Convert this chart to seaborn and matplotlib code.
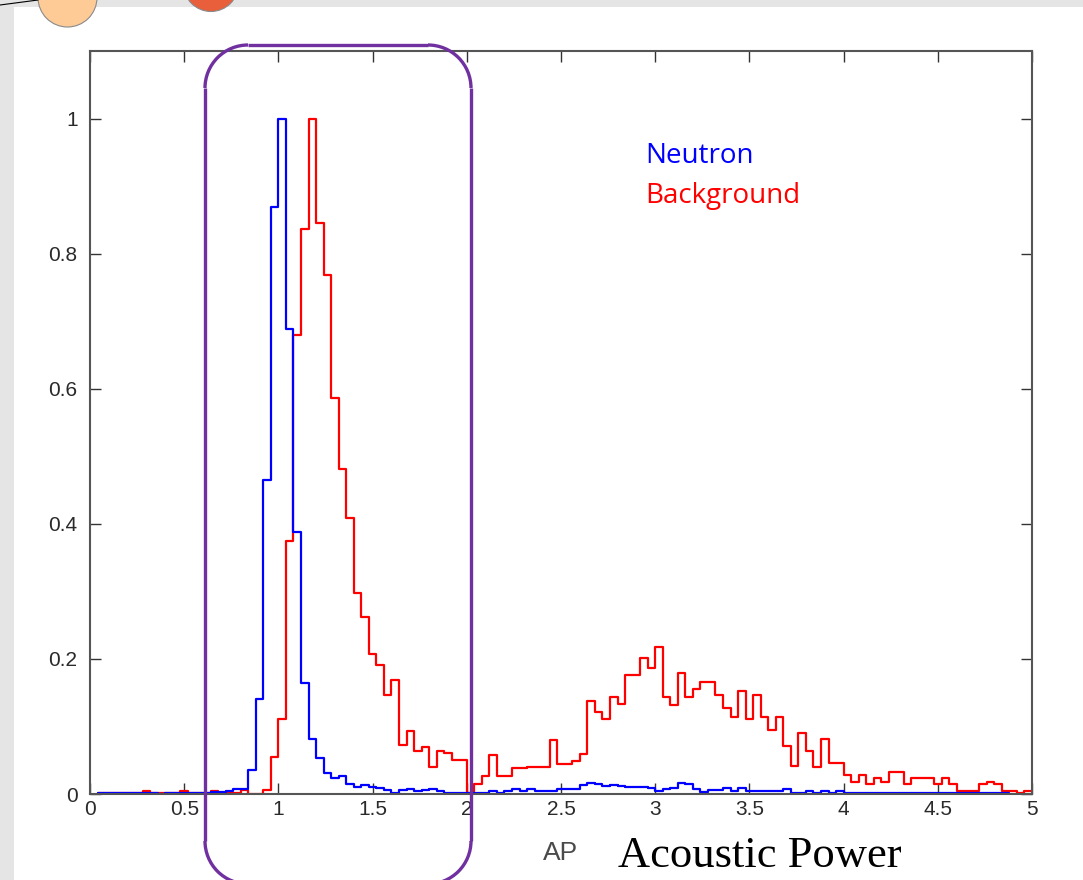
import numpy as np
import pandas as pd
import seaborn as sns
import matplotlib.pyplot as plt
from matplotlib.patches import Rectangle, Circle, Arc

# histogram bins: width 0.04, first edge at 0.04
bin_width = 0.04
first_edge = 0.04

# normalised counts per bin (peak = 1)
neutron = [
    0.002, 0.002, 0.002, 0.002, 0.002, 0.002, 0.002, 0.002, 0.0, 0.002,   # 1-10
    0.002, 0.002, 0.002, 0.002, 0.002, 0.003, 0.003, 0.005, 0.008, 0.008,  # 11-20
    0.035, 0.140, 0.465, 0.869, 1.0, 0.688, 0.388, 0.165, 0.081, 0.054,    # 21-30
    0.031, 0.024, 0.027, 0.015, 0.010, 0.013, 0.011, 0.009, 0.006, 0.002,  # 31-40
    0.006, 0.008, 0.004, 0.006, 0.008, 0.004, 0.002, 0.002, 0.002, 0.002,  # 41-50
    0.002, 0.002, 0.005, 0.001, 0.005, 0.008, 0.005, 0.008, 0.005, 0.005,  # 51-60
    0.005, 0.007, 0.007, 0.007, 0.014, 0.016, 0.015, 0.012, 0.014, 0.012,  # 61-70
    0.011, 0.011, 0.010, 0.009, 0.005, 0.008, 0.009, 0.017, 0.015, 0.007,  # 71-80
    0.003, 0.006, 0.006, 0.009, 0.004, 0.009, 0.005, 0.005, 0.005, 0.005,  # 81-90
    0.005, 0.007, 0.002, 0.002, 0.005, 0.002, 0.005, 0.002, 0.005, 0.002,  # 91-100
    0.002, 0.002, 0.002, 0.002, 0.002, 0.002, 0.002, 0.002, 0.002, 0.002,  # 101-110
    0.002, 0.002, 0.002, 0.002, 0.002, 0.002, 0.002, 0.002, 0.002, 0.002,  # 111-120
    0.002,                                                                  # 121
]

background = [
    0.001, 0.001, 0.001, 0.001, 0.001, 0.001, 0.005, 0.001, 0.001, 0.001,  # 1-10
    0.001, 0.005, 0.001, 0.001, 0.001, 0.004, 0.001, 0.001, 0.001, 0.006,  # 11-20
    0.0, 0.0, 0.006, 0.055, 0.111, 0.374, 0.680, 0.837, 1.0, 0.845,        # 21-30
    0.769, 0.586, 0.481, 0.408, 0.297, 0.262, 0.207, 0.191, 0.146, 0.169,  # 31-40
    0.073, 0.094, 0.063, 0.070, 0.040, 0.063, 0.060, 0.050, 0.050, 0.002,  # 41-50
    0.015, 0.027, 0.057, 0.027, 0.027, 0.038, 0.038, 0.040, 0.040, 0.040,  # 51-60
    0.080, 0.045, 0.045, 0.049, 0.059, 0.137, 0.122, 0.111, 0.143, 0.133,  # 61-70
    0.176, 0.176, 0.201, 0.187, 0.217, 0.143, 0.132, 0.179, 0.143, 0.156,  # 71-80
    0.166, 0.166, 0.146, 0.128, 0.114, 0.153, 0.111, 0.147, 0.114, 0.095,  # 81-90
    0.114, 0.071, 0.041, 0.091, 0.063, 0.040, 0.081, 0.046, 0.046, 0.028,  # 91-100
    0.018, 0.028, 0.015, 0.023, 0.018, 0.032, 0.032, 0.015, 0.023, 0.023,  # 101-110
    0.023, 0.015, 0.023, 0.015, 0.005, 0.005, 0.005, 0.015, 0.018, 0.015,  # 111-120
    0.005, 0.005, 0.002, 0.005,                                            # 121-124
]

x_ticks = [0, 0.5, 1, 1.5, 2, 2.5, 3, 3.5, 4, 4.5, 5]
x_tick_labels = ["0", "0.5", "1", "1.5", "2", "2.5", "3", "3.5", "4", "4.5", "5"]
y_ticks = [0, 0.2, 0.4, 0.6, 0.8, 1]
y_tick_labels = ["0", "0.2", "0.4", "0.6", "0.8", "1"]


def hist_frame(values):
    n = len(values)
    edges = first_edge + bin_width * np.arange(n + 1)
    centers = edges[:-1] + bin_width / 2
    return pd.DataFrame({"AP": centers, "weight": values}), edges.tolist()


sns.set_style("white")
plt.rcParams["font.family"] = ["Liberation Sans", "DejaVu Sans"]

fig = plt.figure(figsize=(10.83, 8.80), dpi=100)

# slide backdrop, pixel coordinates
bg = fig.add_axes([0, 0, 1, 1], zorder=-1)
bg.set_xlim(0, 1083)
bg.set_ylim(880, 0)
bg.axis("off")
bg.add_patch(Rectangle((0, 0), 14, 880, color="#e5e5e5", lw=0))
bg.add_patch(Rectangle((0, 0), 1083, 7, color="#e5e5e5", lw=0))
bg.add_patch(Circle((67.5, -2.5), 29.5, facecolor="#fecb97", edgecolor="#8a8a8a", lw=0.8))
bg.add_patch(Circle((211, -16), 27.5, facecolor="#ea5f3b", edgecolor="#8a8a8a", lw=0.8))
bg.plot([0, 38], [5, 0], color="black", lw=0.8)

# overlay for the purple highlight box (same pixel coordinates, drawn on top)
top = fig.add_axes([0, 0, 1, 1], zorder=5)
top.set_xlim(0, 1083)
top.set_ylim(880, 0)
top.axis("off")
top.patch.set_alpha(0)

ax = fig.add_axes([90 / 1083, 1 - 794 / 880, 942 / 1083, 743 / 880])

df_bg, edges_bg = hist_frame(background)
df_n, edges_n = hist_frame(neutron)
sns.histplot(data=df_bg, x="AP", weights="weight", bins=edges_bg, element="step",
             fill=False, color="#ff0000", linewidth=1.6, ax=ax)
sns.histplot(data=df_n, x="AP", weights="weight", bins=edges_n, element="step",
             fill=False, color="#0000ff", linewidth=1.6, ax=ax)

ax.set_xlim(0, 5)
ax.set_ylim(0, 1.1)
ax.set_xticks(x_ticks)
ax.set_xticklabels(x_tick_labels)
ax.set_yticks(y_ticks)
ax.set_yticklabels(y_tick_labels)
ax.set_ylabel("")
ax.set_xlabel("AP", fontsize=19, color="#4a4a4a", labelpad=16)
ax.tick_params(direction="in", length=8, width=1, color="#333333",
               bottom=True, left=True, top=True, right=True,
               labelsize=15, labelcolor="#2a2a2a")
ax.tick_params(axis="x", pad=4)
ax.tick_params(axis="y", pad=9)
for s in ax.spines.values():
    s.set_visible(True)
    s.set_color("#555555")
    s.set_linewidth(1.5)

fig.text(645 / 1083, 1 - 163 / 880, "Neutron", color="#0000ff", fontsize=20,
         family=["Open Sans", "DejaVu Sans"], va="baseline")
fig.text(645 / 1083, 1 - 203 / 880, "Background", color="#ff0000", fontsize=20,
         family=["Open Sans", "DejaVu Sans"], va="baseline")
fig.text(618 / 1083, 1 - 867 / 880, "Acoustic Power", color="black", fontsize=32,
         family=["Liberation Serif", "DejaVu Serif"], va="baseline")

# purple rounded box around the neutron peak, bottom runs off the slide
box_l, box_r, box_t, box_b, rad = 205, 471, 45, 884, 43
purple = dict(color="#7030a0", lw=2.4, solid_capstyle="butt")
top.plot([box_l, box_l], [box_t + rad, box_b - rad], **purple)
top.plot([box_r, box_r], [box_t + rad, box_b - rad], **purple)
top.plot([box_l + rad, box_r - rad], [box_t, box_t], **purple)
top.plot([box_l + rad, box_r - rad], [box_b, box_b], **purple)
for cx, cy, t1, t2 in [(box_l + rad, box_t + rad, 180, 270),
                       (box_r - rad, box_t + rad, 270, 360),
                       (box_l + rad, box_b - rad, 90, 180),
                       (box_r - rad, box_b - rad, 0, 90)]:
    top.add_patch(Arc((cx, cy), 2 * rad, 2 * rad, theta1=t1, theta2=t2,
                      color="#7030a0", lw=2.4))

fig.savefig("out.png", dpi=100)
